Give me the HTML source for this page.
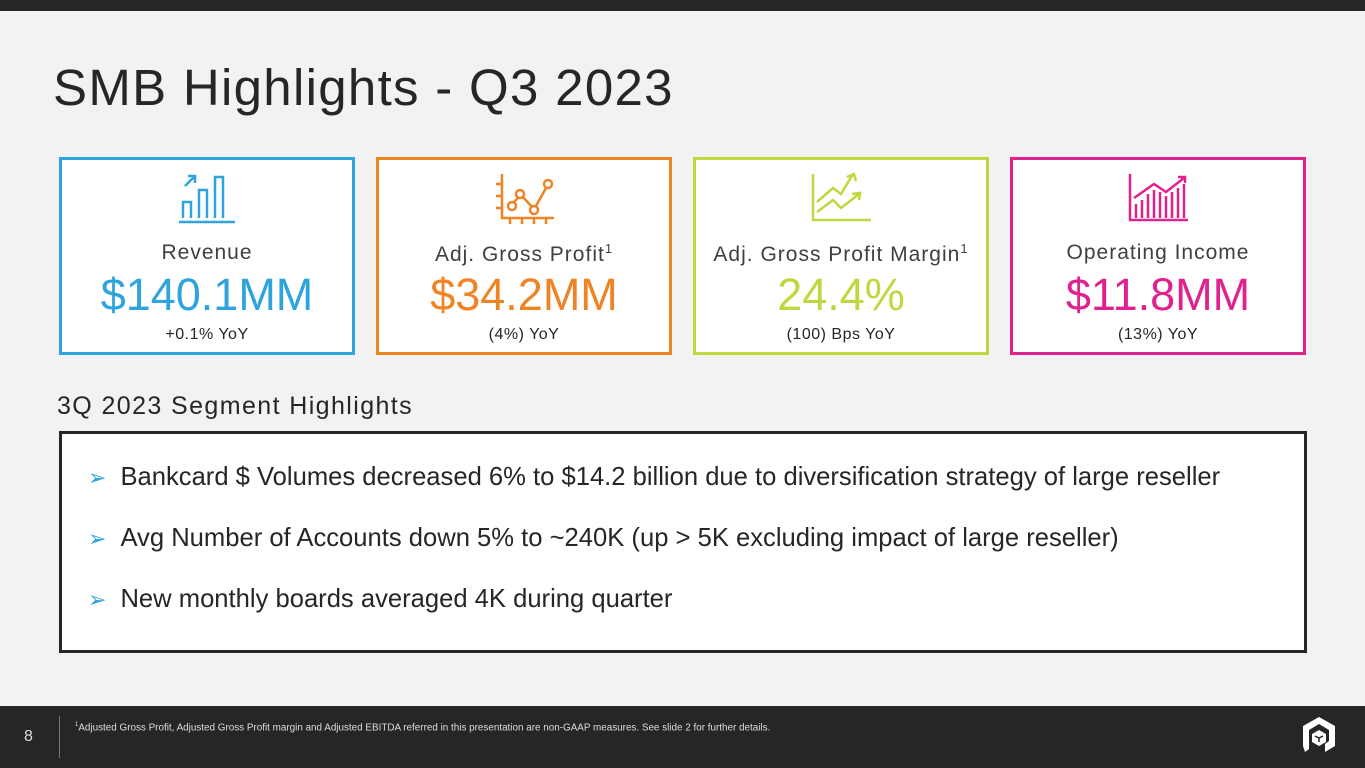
<!DOCTYPE html>
<html><head><style>
*{margin:0;padding:0;box-sizing:border-box}
body{width:1365px;height:768px;background:#f2f2f2;font-family:"Liberation Sans",sans-serif;position:relative;overflow:hidden}
.top{position:absolute;left:0;top:0;width:1365px;height:11px;background:#262626}
h1{position:absolute;left:53px;top:58px;font-size:51px;font-weight:normal;color:#262626;letter-spacing:1.3px}
.card{position:absolute;top:157px;width:296px;height:198px;background:#fff;border:3px solid;text-align:center}
.card svg{position:absolute;left:50%;margin-left:-32px;top:12px}
.lbl{position:absolute;top:81px;width:100%;font-size:21px;color:#404040;letter-spacing:1px}
.lbl sup{font-size:13px;vertical-align:8px}
.val{position:absolute;top:109px;width:100%;font-size:45px}
.yoy{position:absolute;top:166px;width:100%;font-size:16px;color:#262626;letter-spacing:.5px}
.seg{position:absolute;left:57px;top:392px;font-size:25px;color:#262626;letter-spacing:1.4px}
.box{position:absolute;left:59px;top:431px;width:1248px;height:222px;background:#fff;border:3px solid #262626}
.b{position:absolute;left:26px;font-size:25.6px;color:#262626;white-space:nowrap}
.b span{color:#2aa3dc;margin-right:14px;font-size:22px;font-family:"DejaVu Sans",sans-serif}
.foot{position:absolute;left:0;top:706px;width:1365px;height:62px;background:#262626}
</style></head><body>
<div class="top"></div>
<h1>SMB Highlights - Q3 2023</h1>

<div class="card" style="left:59px;border-color:#2ea3dc">
<svg width="64" height="52" viewBox="0 0 64 52" fill="none" stroke="#2ea3dc" stroke-width="2.5"><path d="M4 50H60M8 46V30H16V46M24 46V18H32V46M40 46V5H48V46M10 14L20 4M13 4H20V11"/></svg>
<div class="lbl">Revenue</div><div class="val" style="color:#2ea3dc">$140.1MM</div><div class="yoy">+0.1% YoY</div></div>

<div class="card" style="left:376px;border-color:#ef8425">
<svg width="64" height="52" viewBox="0 0 64 52" fill="none" stroke="#ef8425" stroke-width="2.5"><path d="M10 2V46H62M4 12H10M4 24H10M4 36H10M18 46V52M30 46V52M42 46V52M54 46V52"/><circle cx="20" cy="34" r="4"/><circle cx="28" cy="22" r="4"/><circle cx="42" cy="38" r="4"/><circle cx="56" cy="12" r="4"/><path d="M22 30L26 26M31 25L40 35M44 34L54 16"/></svg>
<div class="lbl">Adj. Gross Profit<sup>1</sup></div><div class="val" style="color:#ef8425">$34.2MM</div><div class="yoy">(4%) YoY</div></div>

<div class="card" style="left:693px;border-color:#c0d840">
<svg width="64" height="52" viewBox="0 0 64 52" fill="none" stroke="#c0d840" stroke-width="2.5"><path d="M4 2V48H62M8 30L24 16L32 22L44 2M38 5L45 2L47 9M8 40L24 28L32 36L50 22M43 22L51 21L50 28"/></svg>
<div class="lbl">Adj. Gross Profit Margin<sup>1</sup></div><div class="val" style="color:#c0d840">24.4%</div><div class="yoy">(100) Bps YoY</div></div>

<div class="card" style="left:1010px;border-color:#e0228f">
<svg width="64" height="52" viewBox="0 0 64 52" fill="none" stroke="#e0228f" stroke-width="2.5"><path d="M4 2V48H62M10 46V32M16 46V28M22 46V22M28 46V18M34 46V20M40 46V24M46 46V20M52 46V16M58 46V12M8 26L28 12L40 20L58 6M52 5H59V11"/></svg>
<div class="lbl">Operating Income</div><div class="val" style="color:#e0228f">$11.8MM</div><div class="yoy">(13%) YoY</div></div>

<div class="seg">3Q 2023 Segment Highlights</div>
<div class="box">
<div class="b" style="top:29px"><span>➢</span>Bankcard $ Volumes decreased 6% to $14.2 billion due to diversification strategy of large reseller</div>
<div class="b" style="top:90px"><span>➢</span>Avg Number of Accounts down 5% to ~240K (up &gt; 5K excluding impact of large reseller)</div>
<div class="b" style="top:151px"><span>➢</span>New monthly boards averaged 4K during quarter</div>
</div>

<div class="foot">
<div style="position:absolute;left:24px;top:22px;color:#ddd;font-size:16px">8</div>
<div style="position:absolute;left:59px;top:10px;width:1px;height:42px;background:#777"></div>
<div style="position:absolute;left:75px;top:16px;color:#ddd;font-size:9.9px"><sup style="font-size:6px">1</sup>Adjusted Gross Profit, Adjusted Gross Profit margin and Adjusted EBITDA referred in this presentation are non-GAAP measures. See slide 2 for further details.</div>
<svg style="position:absolute;left:1301px;top:10px" width="36" height="40" viewBox="0 0 36 40"><path d="M18 1L34 10V30L24 36V28L28 25V14L18 8L8 14V33L4 36L2 30V10Z" fill="#fff"/><path d="M18 14L25 18V26L18 30L11 26V18Z" fill="#fff"/><path d="M14 20L18 22L22 20M18 22V26" stroke="#262626" stroke-width="1.5" fill="none"/></svg>
</div>
</body></html>
